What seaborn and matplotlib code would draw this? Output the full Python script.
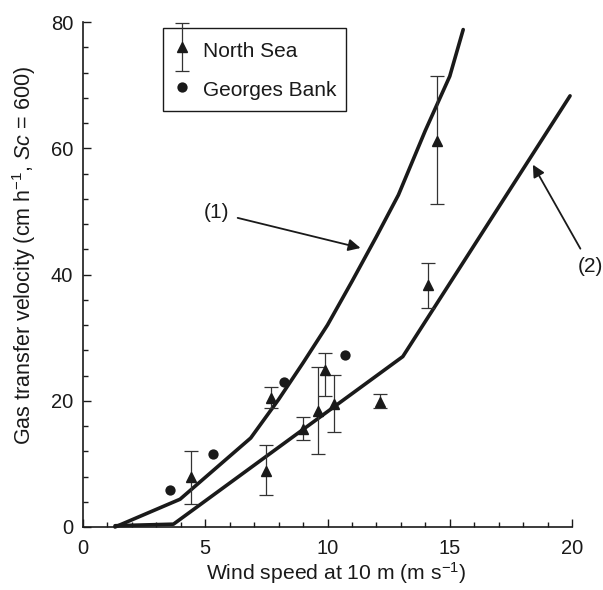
import numpy as np
import pandas as pd
import matplotlib
matplotlib.use("Agg")
import matplotlib.pyplot as plt
import seaborn as sns
from matplotlib.container import ErrorbarContainer
from matplotlib.legend_handler import HandlerErrorbar
from matplotlib.ticker import MultipleLocator

# ---- data ----
ns_wind = [4.42, 7.47, 7.68, 8.99, 9.60, 9.90, 10.28, 12.15, 14.12, 14.49]
ns_k    = [7.9, 8.9, 20.5, 15.6, 18.4, 24.9, 19.5, 19.8, 38.4, 61.1]
ns_lo   = [3.65, 5.07, 18.9, 13.8, 11.6, 20.8, 15.1, 18.8, 34.75, 51.1]
ns_hi   = [12.0, 13.0, 22.2, 17.5, 25.3, 27.6, 24.1, 21.1, 41.8, 71.5]

gb_wind = [3.56, 5.33, 8.22, 10.72]
gb_k    = [5.9, 11.5, 22.9, 27.2]

line1_wind = [1.31, 3.97, 6.86, 8.0, 9.0, 10.0, 11.0, 12.0, 12.9, 14.0, 15.0, 15.55]
line1_k    = [0.0, 4.4, 14.1, 20.2, 26.0, 32.0, 38.9, 46.0, 52.6, 62.8, 71.4, 78.8]
line2_wind = [1.31, 3.7, 13.08, 19.92]
line2_k    = [0.2, 0.45, 27.0, 68.3]

xticks = [0, 5, 10, 15, 20]
yticks = [0, 20, 40, 60, 80]

sns.set_theme(style="ticks")
plt.rcParams["font.family"] = ["Liberation Sans", "DejaVu Sans"]
plt.rcParams["mathtext.fontset"] = "custom"
plt.rcParams["mathtext.rm"] = "Liberation Sans"
plt.rcParams["mathtext.it"] = "Liberation Sans:italic"
plt.rcParams["mathtext.bf"] = "Liberation Sans:bold"

ink = "#1a1a1a"
fig = plt.figure(figsize=(6.03, 5.90), dpi=100)
ax = fig.add_axes([83 / 603, 1 - 527 / 590, (572 - 83) / 603, (527 - 22) / 590])

l1 = pd.DataFrame({"wind": line1_wind, "k": line1_k})
l2 = pd.DataFrame({"wind": line2_wind, "k": line2_k})
sns.lineplot(data=l1, x="wind", y="k", sort=False, estimator=None, color=ink,
             lw=2.6, ax=ax, legend=False, clip_on=False, zorder=3)
sns.lineplot(data=l2, x="wind", y="k", sort=False, estimator=None, color=ink,
             lw=2.6, ax=ax, legend=False, clip_on=False, zorder=3)

yerr = [np.array(ns_k) - np.array(ns_lo), np.array(ns_hi) - np.array(ns_k)]
eb = ax.errorbar(ns_wind, ns_k, yerr=yerr, fmt="^", ms=7.5, color=ink, ecolor="#333333",
                 elinewidth=0.9, capsize=5, capthick=0.9, label="North Sea", zorder=4)

gb = pd.DataFrame({"wind": gb_wind, "k": gb_k})
sns.scatterplot(data=gb, x="wind", y="k", marker="o", s=55, color=ink, edgecolor=ink,
                linewidth=0, ax=ax, label="Georges Bank", zorder=4)

ax.set_xlim(0, 20)
ax.set_ylim(0, 80)
ax.set_xticks(xticks)
ax.set_yticks(yticks)
ax.xaxis.set_minor_locator(MultipleLocator(1))
ax.yaxis.set_minor_locator(MultipleLocator(4))
ax.tick_params(which="both", direction="in", color=ink, width=1.0)
ax.tick_params(which="major", length=6, labelsize=14.5, labelcolor=ink)
ax.tick_params(axis="x", which="major", pad=8.5)
ax.tick_params(axis="y", which="major", pad=7)
ax.tick_params(which="minor", length=3.5)
sns.despine(ax=ax)
for s in ("left", "bottom"):
    ax.spines[s].set_color(ink)
    ax.spines[s].set_linewidth(1.2)

ax.set_xlabel("Wind speed at 10 m (m s$^{-1}$)", fontsize=15.2, color=ink)
ax.set_ylabel("Gas transfer velocity (cm h$^{-1}$, $Sc$ = 600)", fontsize=15.5, color=ink)
ax.xaxis.set_label_coords(0.518, -0.066)
ax.yaxis.set_label_coords(-0.092, 0.537)

handles, labels = ax.get_legend_handles_labels()
order = [labels.index("North Sea"), labels.index("Georges Bank")]
leg = ax.legend([handles[i] for i in order], [labels[i] for i in order],
                loc="upper left", bbox_to_anchor=(0.164, 0.988),
                borderaxespad=0, frameon=True, fancybox=False, edgecolor=ink,
                framealpha=1, fontsize=15, handlelength=0.92, handletextpad=0.55,
                handleheight=1.44, labelspacing=0.72, borderpad=0.45,
                handler_map={ErrorbarContainer: HandlerErrorbar(yerr_size=1.15)})
leg.get_frame().set_linewidth(1.0)
for t in leg.get_texts():
    t.set_color(ink)

arrow = dict(arrowstyle="-|>", color=ink, lw=1.3, shrinkA=4, shrinkB=0, mutation_scale=18)
ax.annotate("(1)", xy=(11.35, 44.2), xytext=(5.45, 49.8), ha="center", va="center",
            fontsize=15, color=ink, arrowprops=arrow)
ax.annotate("(2)", xy=(18.4, 57.4), xytext=(20.75, 41.3), ha="center", va="center",
            fontsize=15, color=ink, arrowprops=arrow, annotation_clip=False)

fig.savefig("out.png", dpi=100)
